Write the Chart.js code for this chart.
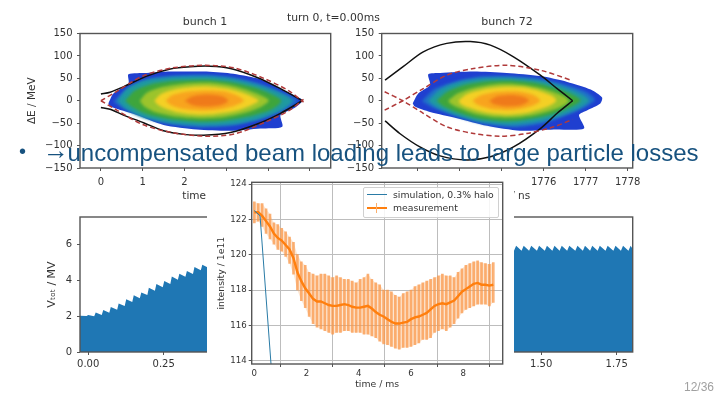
<!DOCTYPE html>
<html>
<head>
<meta charset="utf-8">
<style>
html, body { margin: 0; padding: 0; background: #fff; width: 720px; height: 405px; overflow: hidden; }
canvas { position: absolute; left: 0; top: 0; filter: blur(0.4px); }
.txt { position: absolute; white-space: nowrap; font-family: "DejaVu Sans", sans-serif; }
#cover { position: absolute; left: 207px; top: 174px; width: 307px; height: 231px; background: #fff; }
#headline { left: 67.5px; top: 139px; font: 24px "Liberation Sans", Arial, sans-serif; color: #17527f; }
#arrow { left: 43px; top: 135px; font: bold 26px "Liberation Sans", Arial, sans-serif; color: #17527f; }
#bullet { left: 19px; top: 140px; font: 20px "Liberation Sans", Arial, sans-serif; color: #17527f; }
#turn { left: 287px; top: 11px; font-size: 10.8px; color: #333; }
.panelTitle { font-size: 11px; color: #333; top: 15px; transform: translateX(-50%); }
#page { left: 684px; top: 380px; font: 12px "Liberation Sans", Arial, sans-serif; color: #a0a0a0; }
#legend { position: absolute; left: 363px; top: 187px; width: 134px; height: 29px; border: 1px solid #d0d0d0; border-radius: 2px; background: rgba(255,255,255,.85); }
#legend .txt { font-size: 9.3px; color: #333; left: 29px; }
.swatch { position: absolute; left: 3px; width: 20px; }
</style>
</head>
<body>
<canvas id="bunch1Chart" width="720" height="405"></canvas>
<canvas id="bunch72Chart" width="720" height="405"></canvas>
<canvas id="voltageChart" width="720" height="405"></canvas>
<div id="cover"></div>
<canvas id="intensityChart" width="720" height="405"></canvas>
<div id="legend">
  <div class="swatch" style="top:6px;height:1px;background:#2a7ba6"></div>
  <div class="txt" style="top:0.5px">simulation, 0.3% halo</div>
  <div class="swatch" style="top:19px;height:2px;background:#ff7f0e"></div>
  <div class="swatch" style="top:15px;left:12px;width:1px;height:10px;background:#fbb06e"></div>
  <div class="txt" style="top:14px">measurement</div>
</div>
<div class="txt panelTitle" style="left:205px">bunch 1</div>
<div class="txt panelTitle" style="left:507px">bunch 72</div>
<div id="turn" class="txt">turn 0, t=0.00ms</div>
<div id="bullet" class="txt">•</div>
<div id="arrow" class="txt">→</div>
<div id="headline" class="txt">uncompensated beam loading leads to large particle losses</div>
<div id="page" class="txt">12/36</div>

<script src="https://cdn.jsdelivr.net/npm/chart.js@4/dist/chart.umd.min.js"></script>
<script>
// Phase space, bunch 1: density contours from outer to inner, [t / ns, dE / MeV]
const bunch1Blue = [[0.18,-6],[0.30,16],[0.66,39],[0.66,59],[1.10,62],[1.66,65],[2.46,65],[3.10,61],[3.74,50],[4.30,27],[4.78,5],[4.82,-1],[4.62,-17],[4.30,-32],[4.34,-58],[3.82,-62],[3.10,-67],[2.30,-64],[1.50,-54],[0.86,-32],[0.22,-13],[0.18,-6]];
const bunch1Azure = [[0.30,-2],[0.62,27],[1.10,48],[1.74,56],[2.46,58],[3.10,53],[3.74,40],[4.30,20],[4.70,0],[4.30,-25],[3.74,-43],[3.10,-56],[2.38,-59],[1.66,-52],[1.02,-36],[0.54,-17],[0.30,-2]];
const bunch1Teal = [[0.40,0],[0.62,26],[1.0,44],[1.6,52],[2.5,54],[3.2,48],[3.8,34],[4.3,17],[4.58,0],[4.3,-22],[3.8,-40],[3.2,-52],[2.4,-55],[1.6,-49],[1.0,-37],[0.6,-18],[0.40,0]];
const bunch1Green = [[0.58,0],[0.8,22],[1.2,37],[1.8,45],[2.5,47],[3.1,42],[3.7,29],[4.1,14],[4.32,0],[4.1,-19],[3.65,-33],[3.0,-44],[2.4,-47],[1.7,-42],[1.1,-30],[0.75,-14],[0.58,0]];
const bunch1Lime = [[0.93,0],[1.1,18],[1.5,31],[2.0,38],[2.55,40],[3.05,35],[3.5,24],[3.85,11],[4.02,0],[3.8,-15],[3.4,-28],[2.9,-37],[2.4,-39],[1.8,-35],[1.3,-25],[1.03,-12],[0.93,0]];
const bunch1Yellow = [[1.28,0],[1.42,14],[1.75,25],[2.2,31],[2.6,32],[3.05,27],[3.4,18],[3.65,8],[3.78,0],[3.55,-12],[3.2,-23],[2.7,-30],[2.3,-31],[1.85,-26],[1.5,-16],[1.35,-8],[1.28,0]];
const bunch1Orange = [[1.55,0],[1.7,12],[2.05,20],[2.5,23],[2.95,21],[3.25,12],[3.42,0],[3.2,-11],[2.85,-19],[2.4,-22],[1.95,-18],[1.68,-10],[1.55,0]];
const bunch1Deep = [[2.0,0],[2.2,10],[2.55,14],[2.9,10],[3.05,0],[2.9,-9],[2.55,-13],[2.2,-10],[2.0,0]];
const bunch1BlackUp = [[0,15],[0.22,19],[0.54,31],[1.10,55],[1.66,71],[2.14,76],[2.62,77],[3.10,72],[3.74,52],[4.30,27],[4.82,0]];
const bunch1BlackDown = [[4.82,0],[4.30,-28],[3.74,-52],[3.10,-71],[2.46,-77],[1.98,-75],[1.50,-67],[1.02,-49],[0.54,-32],[0.22,-19],[0,-15]];
const bunch1RedUp = [[0,0],[0.4,22],[1.0,55],[1.7,73],[2.5,79],[3.2,73],[3.9,50],[4.5,22],[4.85,-3]];
const bunch1RedDown = [[0,0],[0.4,-22],[1.0,-53],[1.7,-71],[2.5,-79],[3.2,-74],[3.9,-49],[4.5,-22],[4.85,3]];

// Phase space, bunch 72
const bunch72Blue = [[1772.88,-6],[1773.01,16],[1773.29,35],[1773.25,59],[1773.53,62],[1774.33,65],[1775.12,62],[1775.92,55],[1776.56,42],[1777.12,25],[1777.39,7],[1777.35,-6],[1777.04,-21],[1776.84,-32],[1776.96,-62],[1776.24,-64],[1775.44,-67],[1774.65,-56],[1773.93,-39],[1773.29,-25],[1772.93,-13],[1772.88,-6]];
const bunch72Azure = [[1773.1,-1],[1773.4,26],[1773.9,43],[1774.5,54],[1775.2,55],[1775.9,49],[1776.5,36],[1777.0,20],[1777.22,2],[1777.0,-14],[1776.6,-30],[1776.0,-50],[1775.3,-59],[1774.6,-52],[1773.9,-34],[1773.4,-17],[1773.1,-1]];
const bunch72Teal = [[1773.25,0],[1773.55,26],[1774.0,42],[1774.6,50],[1775.2,51],[1775.9,45],[1776.45,32],[1776.9,15],[1777.08,0],[1776.85,-16],[1776.35,-35],[1775.8,-48],[1775.2,-54],[1774.5,-47],[1773.9,-32],[1773.45,-14],[1773.25,0]];
const bunch72Green = [[1773.45,0],[1773.7,20],[1774.15,36],[1774.7,44],[1775.25,45],[1775.85,39],[1776.35,26],[1776.75,11],[1776.88,0],[1776.65,-14],[1776.15,-32],[1775.6,-42],[1775.1,-46],[1774.45,-40],[1773.95,-26],[1773.6,-12],[1773.45,0]];
const bunch72Lime = [[1773.72,0],[1773.95,16],[1774.35,29],[1774.85,37],[1775.35,37],[1775.85,30],[1776.25,19],[1776.52,8],[1776.6,-2],[1776.35,-16],[1775.85,-30],[1775.35,-37],[1774.85,-37],[1774.35,-29],[1774.0,-17],[1773.8,-8],[1773.72,0]];
const bunch72Yellow = [[1773.97,0],[1774.15,14],[1774.55,25],[1775.05,31],[1775.5,30],[1775.9,22],[1776.2,11],[1776.3,0],[1776.1,-13],[1775.65,-26],[1775.15,-31],[1774.6,-26],[1774.2,-15],[1774.02,-7],[1773.97,0]];
const bunch72Orange = [[1774.3,0],[1774.5,12],[1774.9,20],[1775.35,21],[1775.75,13],[1775.92,0],[1775.7,-12],[1775.25,-20],[1774.8,-19],[1774.45,-10],[1774.3,0]];
const bunch72Deep = [[1774.7,0],[1774.9,10],[1775.25,13],[1775.55,8],[1775.65,0],[1775.45,-10],[1775.1,-12],[1774.8,-7],[1774.7,0]];
const bunch72BlackUp = [[1772.22,46],[1772.65,76],[1773.13,109],[1773.69,128],[1774.25,132],[1774.73,124],[1775.28,98],[1775.92,57],[1776.32,27],[1776.69,0]];
const bunch72BlackDown = [[1776.69,0],[1776.32,-28],[1775.92,-62],[1775.28,-103],[1774.73,-125],[1774.17,-132],[1773.53,-123],[1773.05,-103],[1772.57,-73],[1772.22,-45]];
const bunch72RedUp = [[1772.21,-21],[1772.64,0],[1773.13,27],[1773.69,57],[1774.33,72],[1775.12,79],[1775.92,68],[1776.68,45]];
const bunch72RedDown = [[1772.21,20],[1772.64,0],[1773.13,-28],[1773.69,-58],[1774.33,-73],[1774.96,-79],[1775.6,-73],[1776.24,-58],[1776.68,-42]];

const energyTicks = [-150, -100, -50, 0, 50, 100, 150];
const bunch1Ticks = [0, 1, 2, 3, 4, 5];
const bunch72Ticks = [1773, 1774, 1775, 1776, 1777, 1778];

// Total voltage, sawtooth vertices (the middle part sits behind the intensity plot)
const voltTime = [-0.027,-0.005,0,0.02,0.025,0.045,0.05,0.07,0.075,0.096,0.101,0.121,0.126,0.146,0.151,0.171,0.176,0.196,0.201,0.221,0.226,0.247,0.252,0.272,0.277,0.297,0.302,0.322,0.327,0.347,0.352,0.373,0.378,0.398,0.403,0.45,0.6,0.8,1.0,1.2,1.41,1.417,1.435,1.442,1.46,1.467,1.486,1.493,1.512,1.519,1.537,1.544,1.561,1.568,1.586,1.593,1.613,1.62,1.638,1.645,1.662,1.669,1.687,1.694,1.713,1.72,1.739,1.746,1.764,1.771,1.789,1.796,1.803];
const voltTotal = [2.02,2.0,2.06,1.98,2.2,2.06,2.33,2.18,2.5,2.35,2.69,2.55,2.93,2.78,3.15,2.98,3.31,3.16,3.57,3.4,3.78,3.6,3.94,3.78,4.19,4.02,4.35,4.18,4.5,4.33,4.72,4.54,4.85,4.68,4.95,5.2,5.6,5.85,5.9,5.9,5.62,5.9,5.62,5.9,5.62,5.9,5.62,5.9,5.62,5.9,5.62,5.9,5.62,5.9,5.62,5.9,5.62,5.9,5.62,5.9,5.62,5.9,5.62,5.9,5.62,5.9,5.62,5.9,5.62,5.9,5.62,5.9,5.72];
const voltYTicks = [0, 2, 4, 6];
const voltXTicks = [0, 0.25, 0.5, 0.75, 1, 1.25, 1.5, 1.75];

// Bunch intensity
const measTime = [0,0.15,0.3,0.45,0.6,0.75,0.9,1.05,1.2,1.35,1.5,1.65,1.8,1.95,2.1,2.25,2.4,2.55,2.7,2.85,3,3.15,3.3,3.45,3.6,3.75,3.9,4.05,4.2,4.35,4.5,4.65,4.8,4.95,5.1,5.25,5.4,5.55,5.7,5.85,6,6.15,6.3,6.45,6.6,6.75,6.9,7.05,7.2,7.35,7.5,7.65,7.8,7.95,8.1,8.25,8.4,8.55,8.7,8.85,9,9.15];
const measMean = [122.4,122.4,122.2,121.9,121.6,121.2,120.95,120.8,120.55,120.3,119.8,119.0,118.5,118.1,117.8,117.5,117.35,117.35,117.25,117.15,117.1,117.1,117.15,117.2,117.15,117.05,117.0,117.0,117.05,117.1,116.95,116.75,116.6,116.5,116.35,116.2,116.1,116.1,116.15,116.2,116.35,116.45,116.5,116.6,116.7,116.9,117.1,117.2,117.25,117.2,117.3,117.4,117.65,117.9,118.05,118.2,118.35,118.4,118.3,118.3,118.25,118.3];
const measHigh = [123.0,122.9,122.9,122.6,122.3,121.8,121.7,121.5,121.3,121.0,120.7,120.0,119.6,119.4,119.0,118.9,118.8,118.9,118.9,118.8,118.7,118.8,118.7,118.6,118.6,118.5,118.4,118.6,118.7,118.9,118.6,118.4,118.3,118.0,118.0,117.9,117.7,117.6,117.8,117.9,118.0,118.2,118.3,118.4,118.5,118.6,118.7,118.8,118.9,118.8,118.8,118.7,119.0,119.2,119.4,119.5,119.6,119.65,119.55,119.5,119.45,119.55];
const measLow = [121.8,121.9,121.6,121.2,120.9,120.6,120.3,120.2,119.9,119.5,118.9,118.0,117.4,117.0,116.5,116.1,115.9,115.8,115.7,115.6,115.5,115.6,115.6,115.7,115.7,115.6,115.6,115.6,115.5,115.5,115.4,115.3,115.1,114.95,114.9,114.8,114.7,114.65,114.75,114.75,114.8,114.9,115.0,115.2,115.2,115.3,115.6,115.7,115.8,115.7,115.9,116.1,116.4,116.7,116.9,117.0,117.1,117.2,117.2,117.2,117.1,117.3];
const simTime = [0, 0.22, 0.64, 0.7];
const simIntensity = [122.5, 122.2, 113.8, 113];
const intensityYTicks = [114, 116, 118, 120, 122, 124];
const intensityXTicks = [0, 2, 4, 6, 8];

const FONT = "'DejaVu Sans', sans-serif";
const INK = "#333";
const SPINE = "#555";
const minusSign = (v) => String(v).replace("-", "\u2212");

// matplotlib style box around the axes
const framePlugin = {
    id: "frame",
    afterDraw(chart) {
        const { ctx, chartArea: a } = chart;
        ctx.save();
        ctx.strokeStyle = SPINE;
        ctx.lineWidth = 1.4;
        ctx.strokeRect(a.left, a.top, a.right - a.left, a.bottom - a.top);
        ctx.restore();
    },
};

// soften the inner density bands, the outer blue edge stays ragged
const softBandsPlugin = {
    id: "softBands",
    afterDatasetDraw(chart, args) {
        if (args.index === 0) chart.ctx.filter = "blur(1.6px)";
        if (args.index === 7) chart.ctx.filter = "none";
    },
};

function axis(min, max, ticks, o) {
    return {
        type: "linear",
        min: min,
        max: max,
        afterBuildTicks: (s) => { s.ticks = ticks.map((v) => ({ value: v })); },
        afterFit: (s) => { if (o.width) s.width = o.width; if (o.height) s.height = o.height; },
        border: { display: false },
        offset: false,
        grid: o.grid
            ? { color: "#bdbdbd", lineWidth: 1, tickLength: 3, tickColor: SPINE }
            : { drawOnChartArea: false, tickLength: 3, tickColor: SPINE },
        ticks: {
            autoSkip: false,
            maxRotation: 0,
            padding: o.pad || 2,
            color: INK,
            font: { family: FONT, size: o.size },
            callback: o.format || minusSign,
        },
        title: o.title
            ? { display: true, text: o.title, color: INK, padding: 0, font: { family: FONT, size: o.titleSize || o.size } }
            : { display: false },
    };
}

function phaseChart(id, xMin, xMax, xTicks, yTitle, padding, sets) {
    const colors = ["#1f3fd0", "#1f72c8", "#1f9aa0", "#3ea53c", "#9cc42c", "#f4d025", "#f8a41e", "#ef7a1a"];
    const bands = sets.contours.map((c, i) => ({
        data: c,
        borderWidth: 0,
        pointRadius: 0,
        tension: 0.25,
        fill: "shape",
        backgroundColor: colors[i],
        order: 20 - i,
    }));
    const curve = (points, color, dash) => ({
        data: points,
        borderColor: color,
        borderWidth: 1.5,
        borderDash: dash,
        pointRadius: 0,
        tension: 0.3,
        fill: false,
        order: 1,
    });
    return new Chart(document.getElementById(id), {
        type: "line",
        data: {
            datasets: bands.concat([
                curve(sets.redUp, "#b03a3a", [5, 3]),
                curve(sets.redDown, "#b03a3a", [5, 3]),
                curve(sets.blackUp, "#111", []),
                curve(sets.blackDown, "#111", []),
            ]),
        },
        options: {
            responsive: false,
            animation: false,
            layout: { padding: padding },
            plugins: { legend: { display: false }, tooltip: { enabled: false } },
            scales: {
                x: axis(xMin, xMax, xTicks, { height: 35, size: 10, titleSize: 10.5, pad: 5, title: "time / ns", format: (v) => String(v) }),
                y: axis(-150, 150, energyTicks, { width: 54, size: 10, titleSize: 10.5, pad: 4.5, title: yTitle }),
            },
        },
        plugins: [framePlugin, softBandsPlugin],
    });
}

phaseChart("bunch1Chart", -0.5, 5.5, bunch1Ticks, "\u0394E / MeV",
    { left: 26, right: 389.3, top: 33.5, bottom: 202 },
    {
        contours: [bunch1Blue, bunch1Azure, bunch1Teal, bunch1Green, bunch1Lime, bunch1Yellow, bunch1Orange, bunch1Deep],
        redUp: bunch1RedUp, redDown: bunch1RedDown, blackUp: bunch1BlackUp, blackDown: bunch1BlackDown,
    });

phaseChart("bunch72Chart", 1772.14, 1778.12, bunch72Ticks, "",
    { left: 327.7, right: 87.3, top: 33.5, bottom: 202 },
    {
        contours: [bunch72Blue, bunch72Azure, bunch72Teal, bunch72Green, bunch72Lime, bunch72Yellow, bunch72Orange, bunch72Deep],
        redUp: bunch72RedUp, redDown: bunch72RedDown, blackUp: bunch72BlackUp, blackDown: bunch72BlackDown,
    });

new Chart(document.getElementById("voltageChart"), {
    type: "line",
    data: {
        datasets: [{
            data: voltTime.map((t, i) => ({ x: t, y: voltTotal[i] })),
            borderWidth: 0,
            pointRadius: 0,
            fill: "origin",
            backgroundColor: "#1f77b4",
        }],
    },
    options: {
        responsive: false,
        animation: false,
        layout: { padding: { left: 46, right: 87.3, top: 217, bottom: 28 } },
        plugins: { legend: { display: false }, tooltip: { enabled: false } },
        scales: {
            x: axis(-0.027, 1.803, voltXTicks, { height: 25, size: 10, pad: 3, format: (v) => v.toFixed(2) }),
            y: axis(0, 7.5, voltYTicks, { width: 34, size: 10, titleSize: 11, pad: 5, title: "V\u209C\u2092\u209C / MV" }),
        },
    },
    plugins: [framePlugin],
});

new Chart(document.getElementById("intensityChart"), {
    type: "bar",
    data: {
        datasets: [
            {
                type: "line",
                data: simTime.map((t, i) => ({ x: t, y: simIntensity[i] })),
                borderColor: "#2a7ba6",
                borderWidth: 1,
                pointRadius: 0,
                order: 1,
            },
            {
                type: "line",
                data: measTime.map((t, i) => ({ x: t, y: measMean[i] })),
                borderColor: "#ff7f0e",
                borderWidth: 2.4,
                pointRadius: 0,
                order: 2,
            },
            {
                type: "bar",
                data: measTime.map((t, i) => ({ x: t, y: [measLow[i], measHigh[i]] })),
                backgroundColor: "rgba(250,150,70,.72)",
                barThickness: 2,
                order: 3,
            },
            // pale haze between the error bars, the source image is blurred there
            {
                type: "line",
                data: measTime.map((t, i) => ({ x: t, y: measHigh[i] })),
                borderWidth: 0,
                pointRadius: 0,
                fill: "+1",
                backgroundColor: "rgba(250,170,100,.3)",
                order: 4,
            },
            {
                type: "line",
                data: measTime.map((t, i) => ({ x: t, y: measLow[i] })),
                borderWidth: 0,
                pointRadius: 0,
                order: 5,
            },
        ],
    },
    options: {
        responsive: false,
        animation: false,
        layout: { padding: { left: 215.7, right: 217.3, top: 182.3, bottom: 15 } },
        plugins: { legend: { display: false }, tooltip: { enabled: false } },
        scales: {
            x: axis(-0.1, 9.51, intensityXTicks, { height: 26, size: 8.6, titleSize: 9.3, grid: true, title: "time / ms", format: (v) => String(v) }),
            y: axis(113.81, 124.1, intensityYTicks, { width: 36, size: 8.6, titleSize: 9.3, grid: true, title: "intensity / 1e11" }),
        },
    },
    plugins: [framePlugin],
});
</script>
</body>
</html>
